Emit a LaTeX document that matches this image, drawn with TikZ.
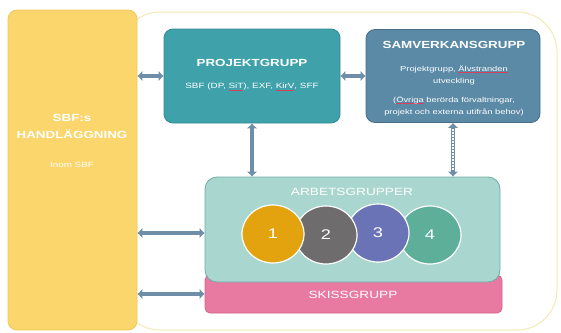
\documentclass[tikz,border=0pt]{standalone}
\usepackage{fontspec}
\setmainfont{Liberation Sans}[FakeStretch=1.3]
\usetikzlibrary{arrows.meta,shapes.geometric}

\definecolor{framey}{HTML}{F3E9B4}
\definecolor{sbfyellow}{HTML}{FAD66C}
\definecolor{sbfedge}{HTML}{F0C85A}
\definecolor{projteal}{HTML}{3FA1AA}
\definecolor{projedge}{HTML}{2F8A93}
\definecolor{samvblue}{HTML}{5B8AA7}
\definecolor{samvedge}{HTML}{476F88}
\definecolor{arbteal}{HTML}{A9D6CF}
\definecolor{arbedge}{HTML}{6DAEA5}
\definecolor{skisspink}{HTML}{E87AA1}
\definecolor{skissedge}{HTML}{D8628C}
\definecolor{linkblue}{HTML}{6F8FA8}
\definecolor{discone}{HTML}{E2A30F}
\definecolor{disctwo}{HTML}{6E6C6C}
\definecolor{discthree}{HTML}{6A73B6}
\definecolor{discfour}{HTML}{5DAF9A}
\definecolor{spellred}{HTML}{D9405E}

\newcommand\spell[1]{\setbox0\hbox{#1}\rlap{\color{spellred}\rule[-1.6pt]{\wd0}{0.5pt}}\box0\relax}

\tikzset{
  box/.style={rounded corners=9pt, line width=0.8pt, inner sep=0pt},
  headtext/.style={text=white, font=\bfseries\fontsize{10.3}{12}\selectfont},
  lighthead/.style={text=white, font=\fontsize{10.5}{12}\selectfont},
  smalltext/.style={text=white, font=\fontsize{7.6}{12}\selectfont, align=center, inner sep=0pt},
  twoway/.style={{Latex[length=5pt,width=11pt]}-{Latex[length=5pt,width=11pt]}, line width=4.2pt, draw=linkblue},
  groupdisc/.style={ellipse, draw=white, line width=1.2pt, minimum width=62pt, minimum height=58pt, text=white, font=\fontsize{14}{16}\selectfont}
}

\begin{document}
\begin{tikzpicture}[x=1pt,y=-1pt]
\useasboundingbox (0,0) rectangle (561,332);
% pale frame round the whole scheme
\draw[framey, line width=1pt, rounded corners=40pt] (120,12) rectangle (557,330);

\node[box, fill=sbfyellow, draw=sbfedge, minimum width=129pt, minimum height=320pt] (sbf) at (72.5,170) {};
\node[headtext] (sbftitle) at (72,118) {SBF:s};
\node[headtext] (sbfhandl) at (72,134) {HANDLÄGGNING};
\node[smalltext] (sbfinom) at (72,165) {Inom SBF};

\node[box, fill=projteal, draw=projedge, minimum width=176pt, minimum height=94pt] (proj) at (252,76) {};
\node[headtext] (projtitle) at (252,63) {PROJEKTGRUPP};
\node[smalltext] (projlist) at (252,87) {SBF (DP, \spell{SiT}), EXF, \spell{KirV}, SFF};

\node[box, fill=samvblue, draw=samvedge, minimum width=174pt, minimum height=93pt] (samv) at (453,76) {};
\node[headtext] (samvtitle) at (454,45) {SAMVERKANSGRUPP};
\node[smalltext, font=\fontsize{7.2}{12}\selectfont] (samvproj) at (454,75) {Projektgrupp, \spell{Älvstranden}\\utveckling};
\node[smalltext, font=\fontsize{7.2}{12}\selectfont] (samvovr) at (454,106) {(\spell{Övriga} berörda förvaltningar,\\projekt och externa utifrån behov)};

% skissgruppen ligger under arbetsgrupperna
\node[box, rounded corners=5pt, fill=skisspink, draw=skissedge, minimum width=297pt, minimum height=38pt] (skiss) at (353.5,294) {};
\node[box, rounded corners=12pt, fill=arbteal, draw=arbedge, minimum width=295pt, minimum height=105pt] (arb) at (352.5,229.5) {};
\node[lighthead] (arbtitle) at (352,192) {ARBETSGRUPPER};
\node[lighthead] (skisstitle) at (353,295) {SKISSGRUPP};

\foreach \n/\cx/\cy/\col in {4/430/235/discfour,3/378/233/discthree,2/326/235/disctwo,1/273/234/discone}
  \node[groupdisc, fill=\col] (disc\n) at (\cx,\cy) {\n};

% arrows between the groups
\draw[twoway] (proj.west -| sbf.east) -- (proj.west);
\draw[twoway] (proj.east) -- (proj.east -| samv.west);
\draw[twoway] (proj.south) -- (proj.south |- arb.north);
\draw[twoway] (samv.south) -- (samv.south |- arb.north);
\draw[white, line width=2.4pt, dash pattern=on 1.6pt off 1.4pt, shorten >=6pt, shorten <=6pt] (samv.south) -- (samv.south |- arb.north);
\coordinate (arbin) at ([yshift=-3.5pt]arb.west);
\draw[twoway] (arbin -| sbf.east) -- (arbin);
\draw[twoway] (skiss.west -| sbf.east) -- (skiss.west);
\end{tikzpicture}
\end{document}
